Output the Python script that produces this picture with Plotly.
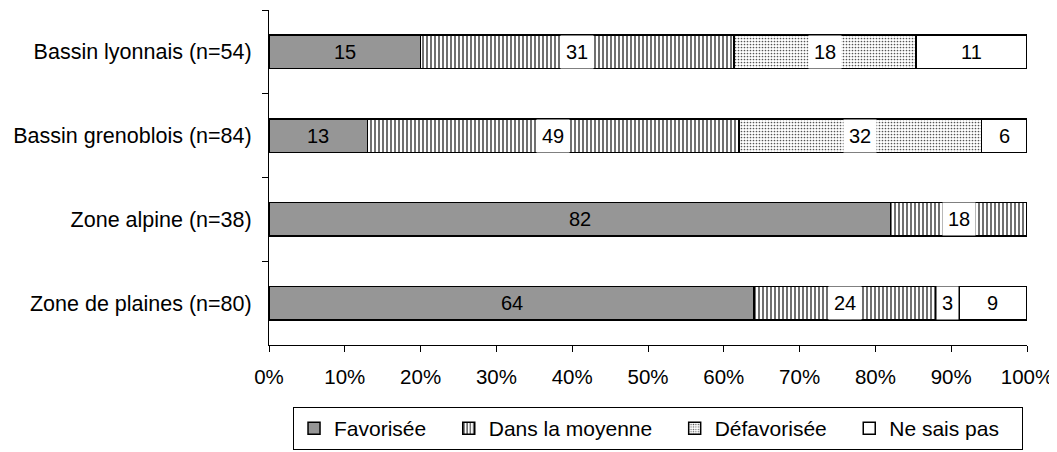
import plotly.graph_objects as go

# ---- data ----
categories = [
    "Bassin lyonnais (n=54)",
    "Bassin grenoblois (n=84)",
    "Zone alpine (n=38)",
    "Zone de plaines (n=80)",
]
series_names = ["Favorisée", "Dans la moyenne", "Défavorisée", "Ne sais pas"]
favorisee = [15, 13, 82, 64]
dans_la_moyenne = [31, 49, 18, 24]
defavorisee = [18, 32, None, 3]
ne_sais_pas = [11, 6, None, 9]
x_tick_values = [0, 10, 20, 30, 40, 50, 60, 70, 80, 90, 100]
x_tick_labels = ["0%", "10%", "20%", "30%", "40%", "50%", "60%", "70%", "80%", "90%", "100%"]

series_values = [favorisee, dans_la_moyenne, defavorisee, ne_sais_pas]

FONT = "Liberation Sans, Arial, sans-serif"
NBSP = "\u00a0"

styles = [
    dict(color="#969696"),
    dict(color="white", pattern=dict(shape="|", fgcolor="#111111", bgcolor="white",
                                     size=4, solidity=0.3, fillmode="replace")),
    dict(color="white", pattern=dict(shape=".", fgcolor="#555555", bgcolor="white",
                                     size=3, solidity=0.25, fillmode="replace")),
    dict(color="white"),
]
label_bg = [None, "white", "white", None]

fig = go.Figure()
for k, (name, vals) in enumerate(zip(series_names, series_values)):
    marker = dict(styles[k])
    marker["line"] = dict(color="black", width=1.5)
    fig.add_trace(go.Bar(
        y=categories, x=vals, name=name + NBSP * 3, orientation="h",
        marker=marker, hoverinfo="x+name",
    ))

# value labels at the middle of each segment (positions derived from the data)
annotations = []
for i, cat in enumerate(categories):
    vals = [s[i] for s in series_values]
    total = sum(v for v in vals if v is not None)
    cum = 0
    for k, v in enumerate(vals):
        if v is None:
            continue
        mid = (cum + v / 2) / total * 100
        cum += v
        ann = dict(x=mid, y=cat, xref="x", yref="y", text=str(v), showarrow=False,
                   font=dict(family=FONT, size=20, color="black"))
        if label_bg[k]:
            ann.update(bgcolor=label_bg[k], borderpad=5)
        annotations.append(ann)

# the page adds an 8px body margin, so the figure is sized to fill the rest
fig.update_layout(
    width=1049, height=444,
    margin=dict(l=261, r=30, t=2, b=107, autoexpand=False),
    barmode="stack", barnorm="percent", bargap=0.6,
    plot_bgcolor="white", paper_bgcolor="white",
    font=dict(family=FONT, size=20, color="black"),
    annotations=annotations,
    showlegend=True,
    legend=dict(
        orientation="h", x=0.0317, xanchor="left", y=-0.185, yanchor="top",
        bordercolor="black", borderwidth=1, font=dict(family=FONT, size=21, color="black"),
        traceorder="normal",
    ),
    xaxis=dict(
        range=[0, 100], tickvals=x_tick_values, ticktext=x_tick_labels,
        showgrid=False, zeroline=False, showline=True, linecolor="black", linewidth=1,
        ticks="outside", ticklen=6, tickcolor="black", ticklabelstandoff=7,
        tickfont=dict(family=FONT, size=20.5, color="black"), fixedrange=True,
        automargin=False,
    ),
    yaxis=dict(
        autorange="reversed", showgrid=False, zeroline=False, showline=True,
        linecolor="black", linewidth=1, ticks="outside", ticklen=6, tickcolor="black",
        tickson="boundaries", ticklabelstandoff=12, automargin=False,
        tickfont=dict(family=FONT, size=21.5, color="black"),
    ),
)

fig.write_html("out.html")
